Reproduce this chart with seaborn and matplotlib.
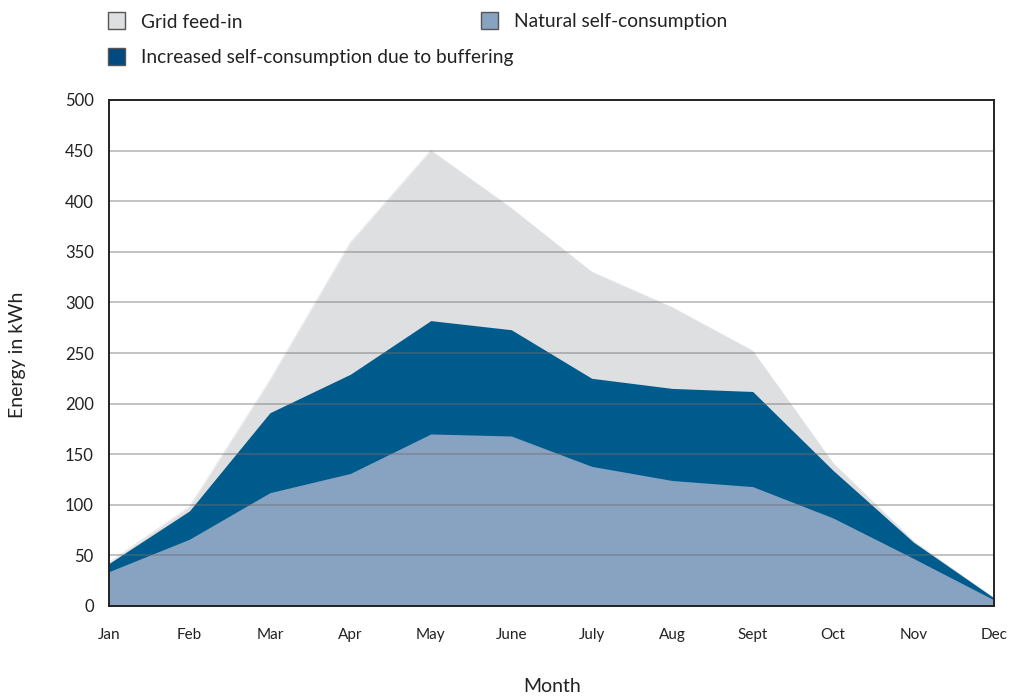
import numpy as np
import pandas as pd
import matplotlib
matplotlib.use("Agg")
import matplotlib.pyplot as plt
from matplotlib.patches import Rectangle
import seaborn as sns

months = ["Jan", "Feb", "Mar", "Apr", "May", "June", "July", "Aug", "Sept", "Oct", "Nov", "Dec"]
natural = [34, 66, 112, 131, 170, 168, 138, 124, 118, 87, 47, 6]
increased_top = [42, 94, 191, 229, 282, 273, 225, 215, 212, 134, 63, 8]
grid_top = [43, 98, 223, 359, 450, 393, 330, 295, 252, 141, 64, 8]
yticks = [0, 50, 100, 150, 200, 250, 300, 350, 400, 450, 500]

labels = ["Grid feed-in", "Natural self-consumption", "Increased self-consumption due to buffering"]
c_grid = "#dedfe1"
c_nat = "#88a3c1"
c_inc = "#005b8d"

sns.set_style("white")
plt.rcParams["font.family"] = ["Lato", "DejaVu Sans"]

df = pd.DataFrame({"month": months, "x": np.arange(len(months)),
                   "natural": natural, "inc": increased_top, "grid": grid_top})

fig = plt.figure(figsize=(10.1, 7.0), dpi=100)
ax = fig.add_axes([109 / 1010, 1 - 606 / 700, (994 - 109) / 1010, (606 - 100) / 700])

x = df["x"].to_numpy()
ax.fill_between(x, 0, df["grid"], color=c_grid, lw=0, zorder=1)
ax.fill_between(x, 0, df["inc"], color=c_inc, lw=0, zorder=2)
ax.fill_between(x, 0, df["natural"], color=c_nat, lw=0, zorder=3)
sns.lineplot(data=df, x="x", y="grid", ax=ax, color=c_grid, lw=0.5, zorder=1)

for v in yticks[1:-1]:
    ax.axhline(v, color="#6f6f6f", lw=1.3, alpha=0.45, zorder=4)

ax.set_xlim(0, len(months) - 1)
ax.set_ylim(0, 500)
ax.set_xticks(x)
ax.set_xticklabels(months, fontsize=11, color="#222222")
ax.set_yticks(yticks)
ax.set_yticklabels([str(v) for v in yticks], fontsize=12, color="#222222")
ax.tick_params(axis="x", direction="out", length=7, width=1.2, color="#888888", pad=9)
ax.tick_params(axis="y", direction="out", length=7, width=1.2, color="#555555", pad=4)
for s in ax.spines.values():
    s.set_color("#222222")
    s.set_linewidth(1.4)
    s.set_zorder(5)
ax.set_xlabel("")
ax.set_ylabel("")

fig.text(552 / 1010, 1 - 687 / 700, "Month", ha="center", va="center", fontsize=14, color="#222222")
fig.text(18 / 1010, 1 - 355 / 700, "Energy in kWh", ha="center", va="center", rotation=90,
         fontsize=14, color="#222222")

legend_items = [(labels[0], c_grid, 108, 20), (labels[1], c_nat, 481, 20), (labels[2], "#004a80", 108, 56)]
for text, col, px, py in legend_items:
    fig.add_artist(Rectangle((px / 1010, 1 - (py + 8.5) / 700), 17 / 1010, 17 / 700,
                             transform=fig.transFigure, facecolor=col, edgecolor="#555555", lw=1))
    fig.text((px + 33) / 1010, 1 - (py + 2) / 700, text, ha="left", va="center", fontsize=13.8,
             color="#222222")

fig.savefig("out.png", dpi=100)
